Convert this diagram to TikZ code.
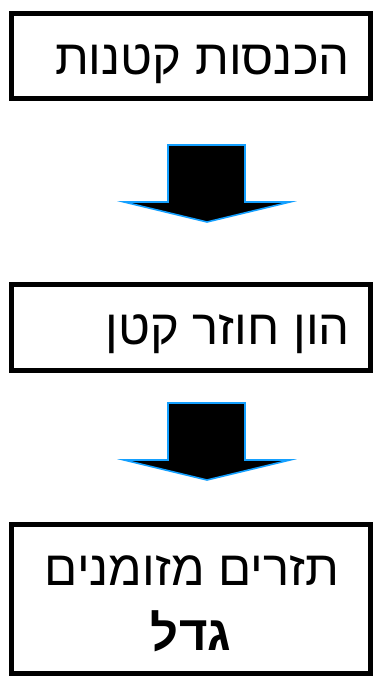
\documentclass[tikz,border=0pt]{standalone}
\usepackage{fontspec}
\setmainfont{Liberation Sans}
\newfontfamily\hebfont[Script=Hebrew]{Liberation Sans}
\TeXXeTstate=1
\definecolor{arrowedge}{RGB}{20,160,255}
\tikzset{
  flowbox/.style={draw=black, line width=5pt, fill=none, inner sep=0pt},
  boxlabel/.style={font=\hebfont\fontsize{49}{52}\selectfont, inner sep=0pt},
  blockarrow/.style={fill=black, draw=arrowedge, line width=1.6pt, line join=miter}
}
\begin{document}
\begin{tikzpicture}[x=1pt, y=-1pt]
\useasboundingbox (0,0) rectangle (373,676);

% boxes
\node[flowbox, minimum width=359pt, minimum height=85pt] (b1) at (191,56) {};
\node[flowbox, minimum width=359pt, minimum height=86pt] (b2) at (191,327.5) {};
\node[flowbox, minimum width=359pt, minimum height=149pt] (b3) at (191,599) {};

% labels
\node[boxlabel, anchor=base east] (t1) at (350,75) {\beginR הכנסות קטנות\endR};
\node[boxlabel, anchor=base east] (t2) at (350,344) {\beginR הון חוזר קטן\endR};
\node[boxlabel, anchor=base] (t3) at (192,585) {\beginR תזרים מזומנים\endR};
\node[boxlabel, anchor=base, font=\hebfont\bfseries\fontsize{49}{52}\selectfont] (t4) at (191,650) {\beginR גדל\endR};

% block arrows between the boxes
\draw[blockarrow] (168,145) -- (245,145) -- (245,202) -- (290,202) -- (207,222)
  -- (124,202) -- (168,202) -- cycle;
\draw[blockarrow] (168,403) -- (245,403) -- (245,460) -- (290,460) -- (207,480)
  -- (124,460) -- (168,460) -- cycle;
\end{tikzpicture}
\end{document}
